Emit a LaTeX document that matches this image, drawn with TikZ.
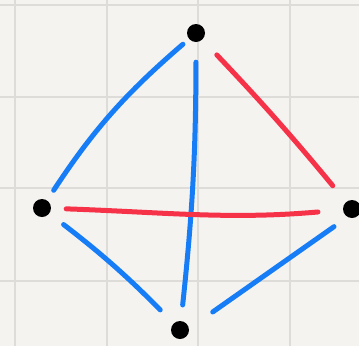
\documentclass[tikz,border=0pt]{standalone}
\definecolor{paper}{RGB}{244,243,240}
\definecolor{gridgray}{RGB}{221,220,217}
\definecolor{penblue}{RGB}{22,125,246}
\definecolor{penred}{RGB}{246,50,72}
\tikzset{
	dot/.style={circle,fill=black,inner sep=0pt,minimum size=18pt},
	pen/.style={line width=5pt,line cap=round},
	blueline/.style={pen,penblue},
	redline/.style={pen,penred}
}
\begin{document}
\begin{tikzpicture}[x=1pt,y=-1pt]
		%Paper with grid
		\fill[paper] (0,0) rectangle (359,346);
		\useasboundingbox (0,0) rectangle (359,346);
		\foreach \x in {15,107,198,290}
		\draw[gridgray,line width=2pt] (\x,0)--(\x,346);
		\foreach \y in {5,97,188,281}
		\draw[gridgray,line width=2pt] (0,\y)--(359,\y);
		%Vertices
		\node[dot] (top) at (196,33) {};
		\node[dot] (left) at (42,208) {};
		\node[dot] (right) at (352,209) {};
		\node[dot] (bottom) at (180,330) {};
		%Edges
		\draw[blueline,shorten <=8pt,shorten >=12pt] (top) to[bend right=8] (left);
		\draw[blueline,shorten <=20pt,shorten >=16pt] (top) to[bend left=3] (bottom);
		\draw[redline,shorten <=21pt,shorten >=21pt] (top) to[bend left=2] (right);
		\draw[redline,shorten <=15pt,shorten >=25pt] (left) to[out=-2,in=185] (right);
		\draw[blueline,shorten <=18pt,shorten >=19pt] (left) to[bend left=4] (bottom);
		\draw[blueline,shorten <=22pt,shorten >=40pt] ([yshift=-5pt]right.center) -- ([yshift=-5pt]bottom.center);
\end{tikzpicture}
\end{document}
